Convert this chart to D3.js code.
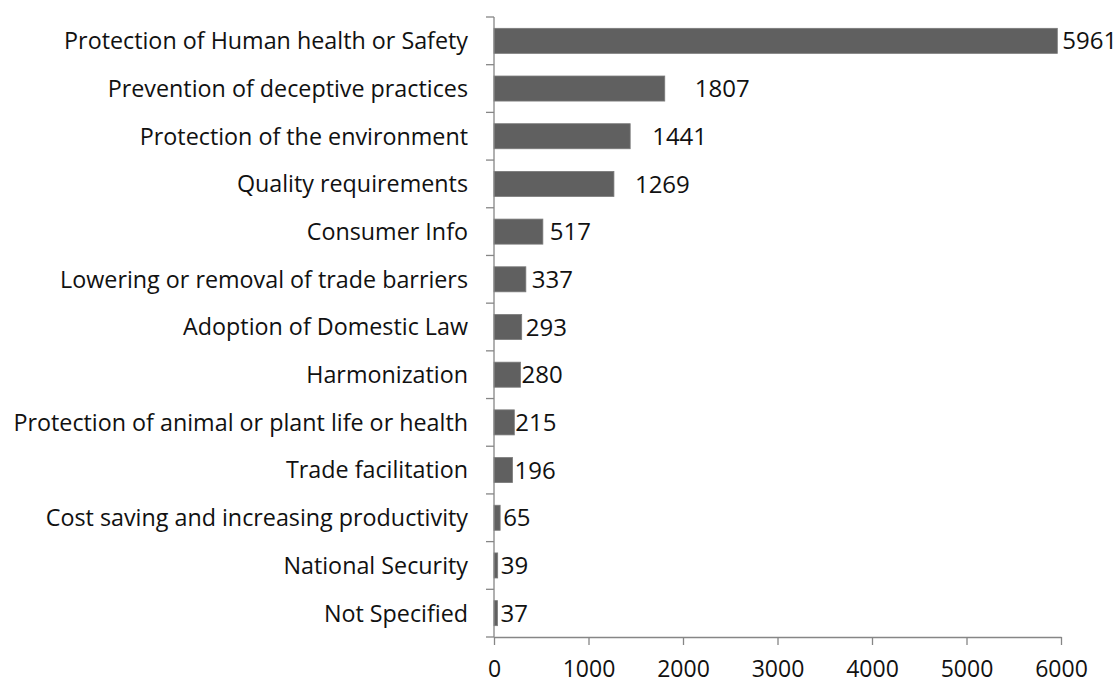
<!DOCTYPE html>
<html>
<head>
<meta charset="utf-8">
<script src="https://cdn.jsdelivr.net/npm/d3@7.9.0/dist/d3.min.js"></script>
<style>
  body { margin: 0; background: #fff; }
  svg text { font-family: "Open Sans", sans-serif; fill: #111; }
</style>
</head>
<body>
<svg id="chart" width="1119" height="682"></svg>
<script>
// Categories and counts, top to bottom
const categories = [
  'Protection of Human health or Safety',
  'Prevention of deceptive practices',
  'Protection of the environment',
  'Quality requirements',
  'Consumer Info',
  'Lowering or removal of trade barriers',
  'Adoption of Domestic Law',
  'Harmonization',
  'Protection of animal or plant life or health',
  'Trade facilitation',
  'Cost saving and increasing productivity',
  'National Security',
  'Not Specified'
];
const counts = [5961, 1807, 1441, 1269, 517, 337, 293, 280, 215, 196, 65, 39, 37];
const xTicks = [0, 1000, 2000, 3000, 4000, 5000, 6000];

// label gap after each bar end (the source chart nudges a few of them)
const labelGap = [5, 30, 22, 21, 7, 6, 4, 1, 1, 2, 3, 3, 3];

const svg = d3.select('#chart');
const axisColor = '#868686';

let x = d3.scaleLinear().domain([0, 6000]).range([494, 1061]);
let y = d3.scaleBand()
  .domain(categories)
  .range([17, 637])
  .paddingInner(0.475)
  .paddingOuter(0.2375);

// bars
svg.selectAll('rect.bar')
  .data(counts)
  .join('rect')
  .attr('class', 'bar')
  .attr('x', x(0))
  .attr('y', (d, i) => y(categories[i]))
  .attr('width', (d) => x(d) - x(0))
  .attr('height', y.bandwidth())
  .attr('fill', '#606060')
  .attr('stroke', '#7a7a7a')
  .attr('stroke-width', 0.8);

// value labels
svg.selectAll('text.value')
  .data(counts)
  .join('text')
  .attr('class', 'value')
  .attr('x', (d, i) => x(d) + labelGap[i])
  .attr('y', (d, i) => y(categories[i]) + y.bandwidth() / 2)
  .attr('dy', '0.36em')
  .attr('font-size', 24)
  .text((d) => d);

// category labels
svg.selectAll('text.cat')
  .data(categories)
  .join('text')
  .attr('class', 'cat')
  .attr('x', 468)
  .attr('y', (d) => y(d) + y.bandwidth() / 2)
  .attr('dy', '0.36em')
  .attr('text-anchor', 'end')
  .attr('font-size', 23.3)
  .text((d) => d);

// vertical axis: line plus ticks between categories
const step = y.step();
const bounds = categories.map((c) => y(c) - y.paddingInner() * step / 2);
bounds.push(y.range()[1]);
svg.append('line')
  .attr('x1', x(0)).attr('x2', x(0))
  .attr('y1', y.range()[0]).attr('y2', y.range()[1])
  .attr('stroke', axisColor).attr('stroke-width', 1.3);
svg.selectAll('line.ytick')
  .data(bounds)
  .join('line')
  .attr('class', 'ytick')
  .attr('x1', x(0) - 8).attr('x2', x(0))
  .attr('y1', (d) => d).attr('y2', (d) => d)
  .attr('stroke', axisColor).attr('stroke-width', 1.3);

// horizontal axis
const xAxis = svg.append('g')
  .attr('transform', `translate(0,${y.range()[1]})`)
  .call(d3.axisBottom(x)
    .tickValues(xTicks)
    .tickFormat(d3.format('d'))
    .tickSize(8)
    .tickSizeOuter(0)
    .tickPadding(0));
xAxis.select('.domain').attr('stroke', axisColor).attr('stroke-width', 1.3);
xAxis.selectAll('.tick line').attr('stroke', axisColor).attr('stroke-width', 1.3);
xAxis.selectAll('.tick text')
  .attr('y', 32)
  .attr('dy', '0.36em')
  .attr('font-size', 23)
  .attr('font-family', '"Open Sans", sans-serif')
  .attr('fill', '#111');
</script>
</body>
</html>
